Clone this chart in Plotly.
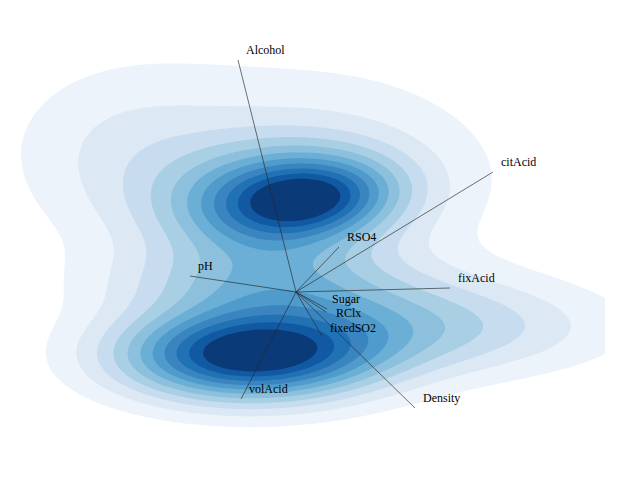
import numpy as np
import plotly.graph_objects as go

# loadings of each variable on the two components (biplot arrows)
variables = ["Alcohol", "citAcid", "fixAcid", "RSO4", "pH",
             "volAcid", "Density", "Sugar", "RClx", "fixedSO2"]
load_x = [-0.58, 1.97, 1.54, 0.43, -1.06, -0.55, 1.19, 0.31, 0.30, 0.26]
load_y = [2.32, 1.20, 0.04, 0.45, 0.16, -1.07, -1.16, -0.17, -0.20, -0.44]

# score density, described as a few gaussian clusters
clu_x = [-0.16, 0.16, -0.48, -0.31, 1.24, -1.76, 0.04]
clu_y = [0.90, 0.94, -0.64, 0.09, -0.35, 1.42, 1.27]
clu_sx = [0.80, 0.55, 0.90, 1.05, 1.25, 0.80, 1.45]
clu_sy = [0.40, 0.25, 0.32, 0.28, 0.34, 0.60, 0.80]
clu_rho = [0.1, 0.2, 0.0, 0.0, 0.0, 0.0, 0.0]
clu_w = [0.58, 0.35, 0.92, 0.28, 0.32, 0.12, 0.15]

# grid the density is evaluated on
grid_x = np.linspace(-2.88, 3.09, 240)
grid_y = np.linspace(-2.11, 2.84, 199)

STEP = 0.08
band_colors = ["#ffffff", "#edf3fb", "#dce9f5", "#c8dcf0", "#a9cfe5", "#8cc0dd",
               "#6baed6", "#4f9bcb", "#3a84bf", "#2171b5", "#1159a3", "#0b3a78"]

# label offsets in pixels (x, y); crowded labels get their own
label_shift = {"Sugar": (3, 10), "RClx": (8, -1), "fixedSO2": (6, 8)}
FONT = "Liberation Serif"


def density(gx, gy):
    X, Y = np.meshgrid(gx, gy)
    z = np.zeros_like(X)
    for cx, cy, sx, sy, r, w in zip(clu_x, clu_y, clu_sx, clu_sy, clu_rho, clu_w):
        dx = (X - cx) / sx
        dy = (Y - cy) / sy
        z += w * np.exp(-0.5 / (1 - r * r) * (dx * dx - 2 * r * dx * dy + dy * dy))
    return z


def stepped(colors):
    n = len(colors)
    cs = []
    for i, c in enumerate(colors):
        cs.append([i / n, c])
        cs.append([(i + 1) / n, c])
    return cs


z = density(grid_x, grid_y)

fig = go.Figure()
fig.add_trace(go.Contour(
    x=grid_x, y=grid_y, z=z,
    colorscale=stepped(band_colors), zmin=0, zmax=STEP * len(band_colors),
    autocontour=False,
    contours=dict(start=STEP, end=STEP * (len(band_colors) - 1), size=STEP,
                  coloring="fill", showlines=False),
    line_width=0, showscale=False, hoverinfo="skip"))

# arrows from the origin
lx, ly = [], []
for x, y in zip(load_x, load_y):
    lx += [0, x, None]
    ly += [0, y, None]
fig.add_trace(go.Scatter(x=lx, y=ly, mode="lines",
                         line=dict(color="rgba(40,40,40,0.65)", width=1),
                         hoverinfo="skip"))

for name, x, y in zip(variables, load_x, load_y):
    sx, sy = label_shift.get(name, (6, 10))
    fig.add_annotation(x=x, y=y, text=name, showarrow=False,
                       xanchor="left", yanchor="middle", xshift=sx, yshift=sy,
                       font=dict(family=FONT, size=12, color="black"))

fig.update_layout(
    width=631, height=495,
    margin=dict(l=0, r=0, t=0, b=0),
    showlegend=False,
    paper_bgcolor="white", plot_bgcolor="white",
    font=dict(family=FONT),
    xaxis=dict(visible=False, range=[-2.88, 3.43]),
    yaxis=dict(visible=False, range=[-2.11, 2.84]),
)

fig.write_html("out.html")
